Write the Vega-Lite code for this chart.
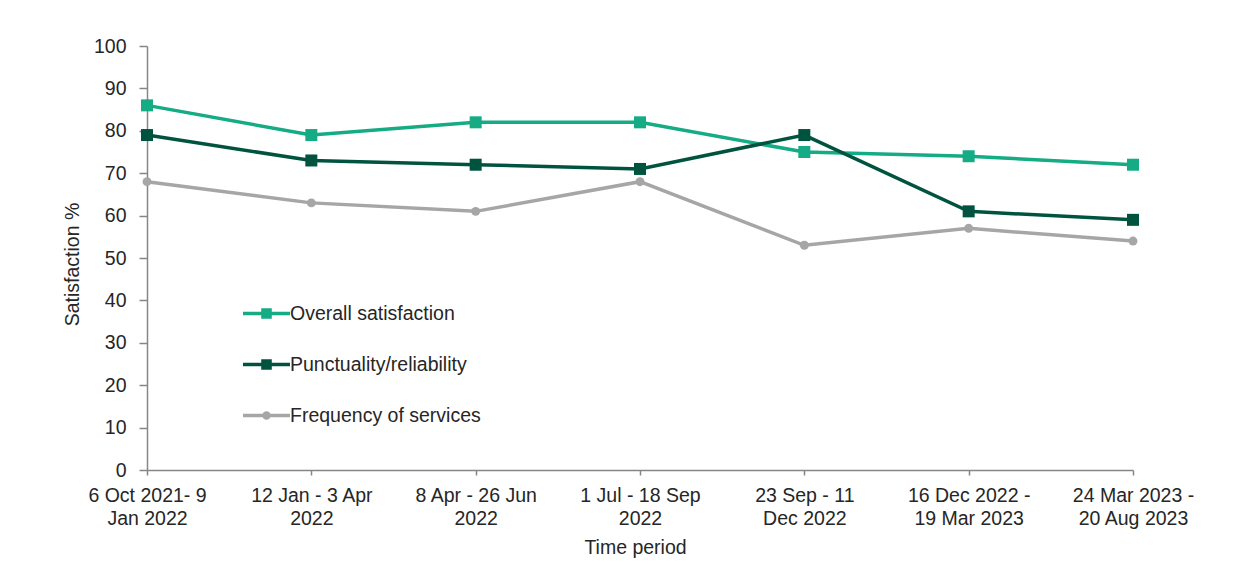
{
  "$schema": "https://vega.github.io/schema/vega-lite/v6.json",
  "autosize": "none",
  "width": 986,
  "height": 424,
  "padding": {"left": 147, "top": 46, "right": 119, "bottom": 117},
  "background": "white",
  "config": {
    "view": {"stroke": null},
    "font": "Liberation Sans",
    "axis": {
      "labelFont": "Liberation Sans",
      "titleFont": "Liberation Sans",
      "labelFontSize": 19.5,
      "titleFontSize": 19.5,
      "titleFontWeight": "normal",
      "labelColor": "#262626",
      "titleColor": "#262626",
      "domainColor": "#868686",
      "tickColor": "#868686",
      "domainWidth": 1.5,
      "tickWidth": 1.5,
      "grid": false
    },
    "legend": {
      "labelFont": "Liberation Sans",
      "labelFontSize": 19.5,
      "labelColor": "#262626",
      "labelLimit": 400
    }
  },
  "data": {
    "values": [
      {"period": "6 Oct 2021- 9\nJan 2022", "measure": "Overall satisfaction", "value": 86},
      {"period": "12 Jan - 3 Apr\n2022", "measure": "Overall satisfaction", "value": 79},
      {"period": "8 Apr - 26 Jun\n2022", "measure": "Overall satisfaction", "value": 82},
      {"period": "1 Jul - 18 Sep\n2022", "measure": "Overall satisfaction", "value": 82},
      {"period": "23 Sep - 11\nDec 2022", "measure": "Overall satisfaction", "value": 75},
      {"period": "16 Dec 2022 -\n19 Mar 2023", "measure": "Overall satisfaction", "value": 74},
      {"period": "24 Mar 2023 -\n20 Aug 2023", "measure": "Overall satisfaction", "value": 72},
      {"period": "6 Oct 2021- 9\nJan 2022", "measure": "Punctuality/reliability", "value": 79},
      {"period": "12 Jan - 3 Apr\n2022", "measure": "Punctuality/reliability", "value": 73},
      {"period": "8 Apr - 26 Jun\n2022", "measure": "Punctuality/reliability", "value": 72},
      {"period": "1 Jul - 18 Sep\n2022", "measure": "Punctuality/reliability", "value": 71},
      {"period": "23 Sep - 11\nDec 2022", "measure": "Punctuality/reliability", "value": 79},
      {"period": "16 Dec 2022 -\n19 Mar 2023", "measure": "Punctuality/reliability", "value": 61},
      {"period": "24 Mar 2023 -\n20 Aug 2023", "measure": "Punctuality/reliability", "value": 59},
      {"period": "6 Oct 2021- 9\nJan 2022", "measure": "Frequency of services", "value": 68},
      {"period": "12 Jan - 3 Apr\n2022", "measure": "Frequency of services", "value": 63},
      {"period": "8 Apr - 26 Jun\n2022", "measure": "Frequency of services", "value": 61},
      {"period": "1 Jul - 18 Sep\n2022", "measure": "Frequency of services", "value": 68},
      {"period": "23 Sep - 11\nDec 2022", "measure": "Frequency of services", "value": 53},
      {"period": "16 Dec 2022 -\n19 Mar 2023", "measure": "Frequency of services", "value": 57},
      {"period": "24 Mar 2023 -\n20 Aug 2023", "measure": "Frequency of services", "value": 54}
    ]
  },
  "encoding": {
    "x": {
      "field": "period",
      "type": "ordinal",
      "sort": null,
      "scale": {"type": "point", "padding": 0},
      "axis": {
        "title": "Time period",
        "labelAngle": 0,
        "labelExpr": "split(datum.label, '\\n')",
        "labelLineHeight": 23,
        "labelPadding": 11,
        "tickSize": 5,
        "titlePadding": 11,
        "titleX": 488
      }
    },
    "y": {
      "field": "value",
      "type": "quantitative",
      "scale": {"domain": [0, 100]},
      "axis": {
        "title": "Satisfaction %",
        "values": [0, 10, 20, 30, 40, 50, 60, 70, 80, 90, 100],
        "tickSize": 8,
        "labelPadding": 13,
        "titlePadding": 11,
        "titleY": 218
      }
    },
    "color": {
      "field": "measure",
      "type": "nominal",
      "scale": {
        "domain": ["Overall satisfaction", "Punctuality/reliability", "Frequency of services"],
        "range": ["#14AB85", "#00543F", "#A6A6A6"]
      },
      "legend": {
        "title": null,
        "orient": "none",
        "legendX": 96,
        "legendY": 244,
        "padding": 0,
        "symbolSize": 2209,
        "rowPadding": 18,
        "labelOffset": 0,
        "encode": {
          "symbols": {
            "update": {
              "shape": {"signal": "datum.value === 'Frequency of services' ? 'M-1,-0.07H1V0.07H-1Z M-0.18,0A0.18,0.18 0 1,1 0.18,0A0.18,0.18 0 1,1 -0.18,0Z' : 'M-1,-0.07H1V0.07H-1Z M-0.225,-0.225H0.225V0.225H-0.225Z'"},
              "size": {"value": 2209},
              "fill": {"scale": "color", "field": "value"},
              "fillOpacity": {"value": 1},
              "strokeWidth": {"value": 0},
              "opacity": {"value": 1}
            }
          }
        }
      }
    }
  },
  "layer": [
    {
      "mark": {"type": "line", "strokeWidth": 3.5}
    },
    {
      "transform": [{"filter": "datum.measure !== 'Frequency of services'"}],
      "mark": {"type": "point", "filled": true, "opacity": 1, "shape": "square", "size": 144}
    },
    {
      "transform": [{"filter": "datum.measure === 'Frequency of services'"}],
      "mark": {"type": "point", "filled": true, "opacity": 1, "shape": "circle", "size": 80}
    }
  ]
}
